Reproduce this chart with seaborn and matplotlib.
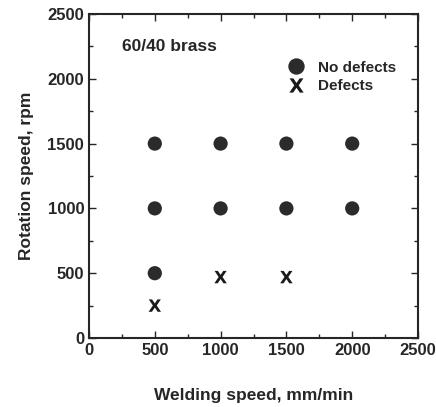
import pandas as pd
import numpy as np
from matplotlib import pyplot as plt
from matplotlib.ticker import MultipleLocator
import seaborn as sns

# weld trials
welding_speed = [500, 1000, 1500, 2000, 500, 1000, 1500, 2000, 500, 500, 1000, 1500]
rotation_speed = [1500, 1500, 1500, 1500, 1000, 1000, 1000, 1000, 500, 250, 470, 470]
result = ["No defects"] * 9 + ["Defects"] * 3

df = pd.DataFrame({"Welding": welding_speed, "Rotation": rotation_speed, "Result": result})

sns.set_style("ticks")
plt.rcParams["font.family"] = ["Liberation Sans", "DejaVu Sans"]
plt.rcParams["font.weight"] = "bold"

fig = plt.figure(figsize=(4.36, 4.07), dpi=100)
ax = fig.add_axes([89 / 436, 1 - 338 / 407, 329 / 436, 324 / 407])

sns.scatterplot(
    data=df, x="Welding", y="Rotation", style="Result", hue="Result",
    markers={"No defects": "o", "Defects": r"$\mathbf{X}$"},
    palette={"No defects": "#2b2b2b", "Defects": "#1a1a1a"},
    size="Result", sizes={"No defects": 105, "Defects": 80},
    linewidth=0, ax=ax, legend=True,
)

ax.set_xlim(0, 2500)
ax.set_ylim(0, 2500)
ax.xaxis.set_major_locator(MultipleLocator(500))
ax.yaxis.set_major_locator(MultipleLocator(500))
ax.xaxis.set_minor_locator(MultipleLocator(250))
ax.yaxis.set_minor_locator(MultipleLocator(250))
ax.tick_params(which="both", direction="in", top=True, right=True, labelsize=12, width=1)
ax.tick_params(which="major", length=5)
ax.tick_params(which="minor", length=3)
for sp in ax.spines.values():
    sp.set_linewidth(1.5)
for lab in ax.get_xticklabels() + ax.get_yticklabels():
    lab.set_fontweight("bold")

ax.set_xlabel("Welding speed, mm/min", fontsize=12.5, fontweight="bold", labelpad=22)
ax.set_ylabel("Rotation speed, rpm", fontsize=12.5, fontweight="bold", labelpad=10)

ax.text(0.1, 0.9, "60/40 brass", transform=ax.transAxes, fontsize=12.5,
        fontweight="bold", va="center", ha="left")

leg = ax.legend(loc="upper left", bbox_to_anchor=(0.56, 0.88), frameon=False,
                fontsize=11, handletextpad=0.4, labelspacing=0.3, borderpad=0,
                markerscale=1.15)
for t in leg.get_texts():
    t.set_fontweight("bold")

fig.savefig("out.png", dpi=100)
